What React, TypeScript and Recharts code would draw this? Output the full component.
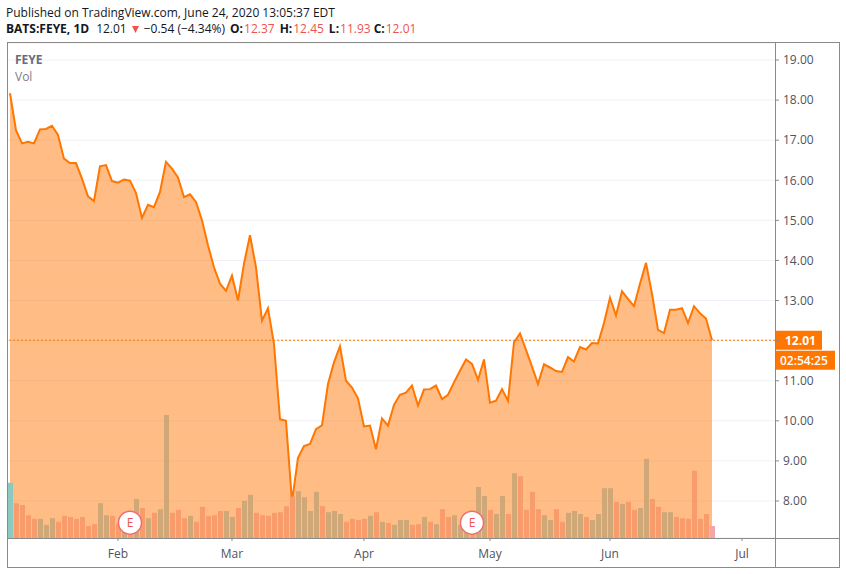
import { ComposedChart, Area, Bar, Cell, XAxis, YAxis, CartesianGrid, ReferenceLine, ReferenceDot } from 'recharts';

// FEYE daily closes, first bar = Jan 7 2020, last = Jun 24 2020
const closes = [
  18.17, 17.25, 16.92, 16.96, 16.92, 17.27, 17.28, 17.36, 17.13, 16.54,
  16.43, 16.43, 16.04, 15.6, 15.48, 16.35, 16.38, 15.98, 15.94, 16.02,
  15.99, 15.68, 15.06, 15.39, 15.33, 15.71, 16.46, 16.29, 16.07, 15.58,
  15.65, 15.46, 15.0, 14.38, 13.83, 13.42, 13.24, 13.62, 13.0, 13.92,
  14.63, 13.83, 12.5, 12.81, 11.92, 10.04, 10.0, 7.98, 9.08, 9.37,
  9.42, 9.79, 9.89, 10.92, 11.46, 11.86, 11.0, 10.83, 10.56, 9.86,
  9.88, 9.29, 10.06, 9.88, 10.4, 10.65, 10.7, 10.88, 10.38, 10.78,
  10.79, 10.88, 10.54, 10.65, 10.96, 11.25, 11.53, 11.42, 11.02, 11.53,
  10.45, 10.5, 10.79, 10.5, 11.96, 12.18, 11.77, 11.35, 10.92, 11.41,
  11.33, 11.24, 11.22, 11.59, 11.48, 11.84, 11.78, 11.94, 11.93, 12.44,
  13.07, 12.63, 13.23, 13.04, 12.86, 13.42, 13.94, 13.17, 12.27, 12.19,
  12.77, 12.77, 12.81, 12.44, 12.86, 12.68, 12.55, 12.01,
];

// volume in millions of shares
const volumes = [
  9.2, 5.8, 5.5, 3.8, 3.2, 3.2, 2.2, 3.3, 2.7, 3.7,
  3.5, 3.2, 3.5, 2.0, 2.3, 5.8, 3.8, 3.7, 2.4, 2.8,
  3.0, 6.5, 5.0, 3.3, 4.2, 4.8, 20.5, 4.2, 4.7, 3.3,
  3.7, 2.7, 5.2, 3.7, 3.8, 4.5, 4.5, 3.5, 5.0, 6.2,
  7.2, 4.2, 3.8, 3.7, 4.2, 4.3, 5.3, 6.9, 7.8, 6.8,
  4.5, 7.7, 5.3, 4.3, 4.5, 4.0, 2.7, 3.2, 3.0, 3.2,
  3.7, 4.3, 2.7, 2.5, 2.2, 3.0, 3.0, 2.2, 2.3, 3.5,
  2.7, 2.3, 4.8, 3.5, 3.8, 2.2, 2.5, 3.0, 8.5, 7.0,
  4.7, 4.0, 7.0, 4.0, 10.8, 10.3, 4.7, 7.7, 4.8, 3.8,
  3.0, 4.8, 2.7, 4.2, 4.5, 4.0, 3.5, 3.0, 4.0, 8.3,
  8.3, 6.0, 5.7, 6.0, 4.7, 5.0, 13.2, 6.5, 5.2, 4.3,
  4.3, 3.5, 3.3, 3.2, 11.2, 3.2, 4.0, 2.0,
];

// 1 = up day (teal volume), 0 = down day (red volume)
const upDays = [
  1, 0, 0, 0, 0, 1, 1, 1, 0, 0,
  0, 0, 0, 0, 0, 1, 1, 0, 0, 1,
  0, 1, 0, 1, 0, 1, 1, 0, 0, 0,
  1, 0, 0, 0, 0, 0, 1, 1, 0, 1,
  1, 0, 0, 0, 0, 0, 0, 0, 1, 1,
  1, 1, 0, 1, 1, 1, 0, 0, 0, 0,
  1, 0, 1, 0, 1, 1, 1, 0, 0, 1,
  0, 1, 0, 0, 1, 1, 1, 0, 1, 1,
  0, 1, 1, 0, 1, 0, 0, 0, 0, 1,
  1, 0, 0, 1, 1, 1, 0, 1, 1, 1,
  1, 0, 1, 0, 0, 1, 1, 0, 0, 1,
  1, 0, 0, 0, 0, 0, 0, 0,
];

const priceTicks = [8, 9, 10, 11, 12, 13, 14, 15, 16, 17, 18, 19];
const monthNames = ['Jan', 'Feb', 'Mar', 'Apr', 'May', 'Jun', 'Jul', 'Aug'];
const holidays = ['2020-01-20', '2020-02-17', '2020-04-10', '2020-05-25', '2020-07-03'];
const earningsIdx = [20, 77];

const ORANGE = '#FF7600';
const RED = '#EF5350';
const FONT = "'Open Sans', sans-serif";
// volume colours as they appear through the translucent area fill
const UP_UNDER = '#D0A877';
const DOWN_UNDER = '#F89C6C';
const UP_OPEN = '#8CC9C0';
const DOWN_OPEN = '#F5A5A3';

function tradingDays(start: string, count: number) {
  const out: Date[] = [];
  const d = new Date(start + 'T12:00:00Z');
  while (out.length < count) {
    const wd = d.getUTCDay();
    const iso = d.toISOString().slice(0, 10);
    if (wd !== 0 && wd !== 6 && !holidays.includes(iso)) out.push(new Date(d));
    d.setUTCDate(d.getUTCDate() + 1);
  }
  return out;
}

const calendar = tradingDays('2020-01-07', 128);
const monthTicks = calendar
  .map((d, i) => i)
  .filter((i) => i > 0 && calendar[i].getUTCMonth() !== calendar[i - 1].getUTCMonth());

const data = closes.map((c, i) => ({
  i,
  date: calendar[i].toISOString().slice(0, 10),
  close: c,
  vol: volumes[i],
  up: upDays[i],
}));

const lastClose = closes[closes.length - 1];

function volColor(i: number) {
  const edge = i === 0 || i === data.length - 1;
  if (upDays[i]) return edge ? UP_OPEN : UP_UNDER;
  return edge ? DOWN_OPEN : DOWN_UNDER;
}

function PriceTick(props: any) {
  const { x, y, payload } = props;
  // the last-price tag covers the nearby tick label
  if (Math.abs(payload.value - lastClose) < 0.3) return null;
  return (
    <text x={x} y={y} dy="0.355em" textAnchor="start" fill="#50535E" fontSize={12} fontFamily={FONT}>
      {payload.value.toFixed(2)}
    </text>
  );
}

function PriceTag(props: any) {
  const vb = props.viewBox || {};
  const x = (vb.x || 0) + (vb.width || 0);
  const y = vb.y || 0;
  return (
    <g>
      <rect x={x} y={y - 9.5} width={47} height={19} fill={ORANGE} />
      <text x={x + 10} y={y + 4.5} fill="#fff" fontSize={12} fontWeight={700} fontFamily={FONT}>
        {lastClose.toFixed(2)}
      </text>
      <rect x={x} y={y + 10.5} width={60} height={19} fill={ORANGE} />
      <text x={x + 5} y={y + 24.5} fill="#fff" fontSize={12} fontWeight={600} fontFamily={FONT}>
        02:54:25
      </text>
    </g>
  );
}

export default function App() {
  return (
    <div style={{ position: 'fixed', left: 0, top: 0, width: 846, height: 574, background: '#fff', fontFamily: FONT, overflow: 'hidden' }}>
      <div style={{ position: 'absolute', left: 6, top: 5, fontSize: 12, lineHeight: '16px', color: '#131722', whiteSpace: 'nowrap' }}>
        Published on TradingView.com, June 24, 2020 13:05:37 EDT
      </div>
      <div style={{ position: 'absolute', left: 6, top: 21, fontSize: 12, lineHeight: '16px', color: '#131722', whiteSpace: 'nowrap' }}>
        <b>BATS:FEYE, 1D</b>
        <span style={{ marginLeft: 7 }}>12.01</span>
        <svg width={7} height={7} style={{ marginLeft: 5, display: 'inline-block' }}>
          <polygon points="0,0 7,0 3.5,7" fill={RED} />
        </svg>
        <span style={{ marginLeft: 5 }}>−0.54 (−4.34%)</span>
        <b style={{ marginLeft: 5 }}>O:</b>
        <span style={{ color: RED, marginLeft: 1 }}>12.37</span>
        <b style={{ marginLeft: 5 }}>H:</b>
        <span style={{ color: RED, marginLeft: 1 }}>12.45</span>
        <b style={{ marginLeft: 5 }}>L:</b>
        <span style={{ color: RED, marginLeft: 1 }}>11.93</span>
        <b style={{ marginLeft: 3 }}>C:</b>
        <span style={{ color: RED, marginLeft: 1 }}>12.01</span>
      </div>

      <div style={{ position: 'absolute', left: 0, top: 0 }}>
        <ComposedChart width={846} height={574} data={data} margin={{ top: 43, right: 11, bottom: 6, left: 8 }}>
          <CartesianGrid yAxisId="price" vertical={false} stroke="#EEF1F7" />
          <XAxis
            dataKey="i"
            type="number"
            domain={[-0.33, 127.5]}
            allowDataOverflow
            ticks={monthTicks}
            tickFormatter={(v: number) => monthNames[calendar[v].getUTCMonth()]}
            axisLine={false}
            tickSize={3}
            tickMargin={8}
            height={30}
            tick={{ fill: '#50535E', fontSize: 12, fontFamily: FONT }}
            tickLine={{ stroke: '#8a8a8a' }}
          />
          <YAxis
            yAxisId="price"
            orientation="right"
            domain={[7.077, 19.424]}
            allowDataOverflow
            ticks={priceTicks}
            axisLine={false}
            tickSize={4}
            tickMargin={4}
            width={60}
            tick={<PriceTick />}
            tickLine={{ stroke: '#8a8a8a' }}
          />
          <YAxis yAxisId="vol" hide domain={[0, 82.5]} allowDataOverflow />
          <Area
            dataKey="close"
            yAxisId="price"
            type="linear"
            stroke={ORANGE}
            strokeWidth={2}
            fill={ORANGE}
            fillOpacity={0.48}
            dot={false}
            activeDot={false}
            isAnimationActive={false}
          />
          <Bar dataKey="vol" yAxisId="vol" barSize={5} isAnimationActive={false}>
            {data.map((d) => (
              <Cell key={d.i} fill={volColor(d.i)} />
            ))}
          </Bar>
          <ReferenceLine yAxisId="price" y={lastClose} stroke={ORANGE} strokeDasharray="2 2" label={<PriceTag />} />
          {earningsIdx.map((i) => (
            <ReferenceDot
              key={i}
              x={i}
              y={2.55}
              yAxisId="vol"
              r={11.5}
              fill="#fff"
              stroke="#F06B73"
              strokeWidth={1.5}
              label={{ value: 'E', position: 'center', fill: RED, fontSize: 12, fontFamily: FONT }}
            />
          ))}
        </ComposedChart>
      </div>

      <div style={{ position: 'absolute', left: 15, top: 52, fontSize: 12, lineHeight: '16px', color: '#6A6D78', fontWeight: 700 }}>FEYE</div>
      <div style={{ position: 'absolute', left: 15, top: 69, fontSize: 12, lineHeight: '16px', color: '#7B7E89' }}>Vol</div>

      <div style={{ position: 'absolute', left: 7, top: 538, width: 833, height: 1, background: '#8a8a8a' }} />
      <div style={{ position: 'absolute', left: 775, top: 42, width: 1, height: 526, background: '#8a8a8a' }} />
      <div style={{ position: 'absolute', left: 7, top: 42, width: 833, height: 526, border: '1px solid #8a8a8a', boxSizing: 'border-box' }} />
    </div>
  );
}
